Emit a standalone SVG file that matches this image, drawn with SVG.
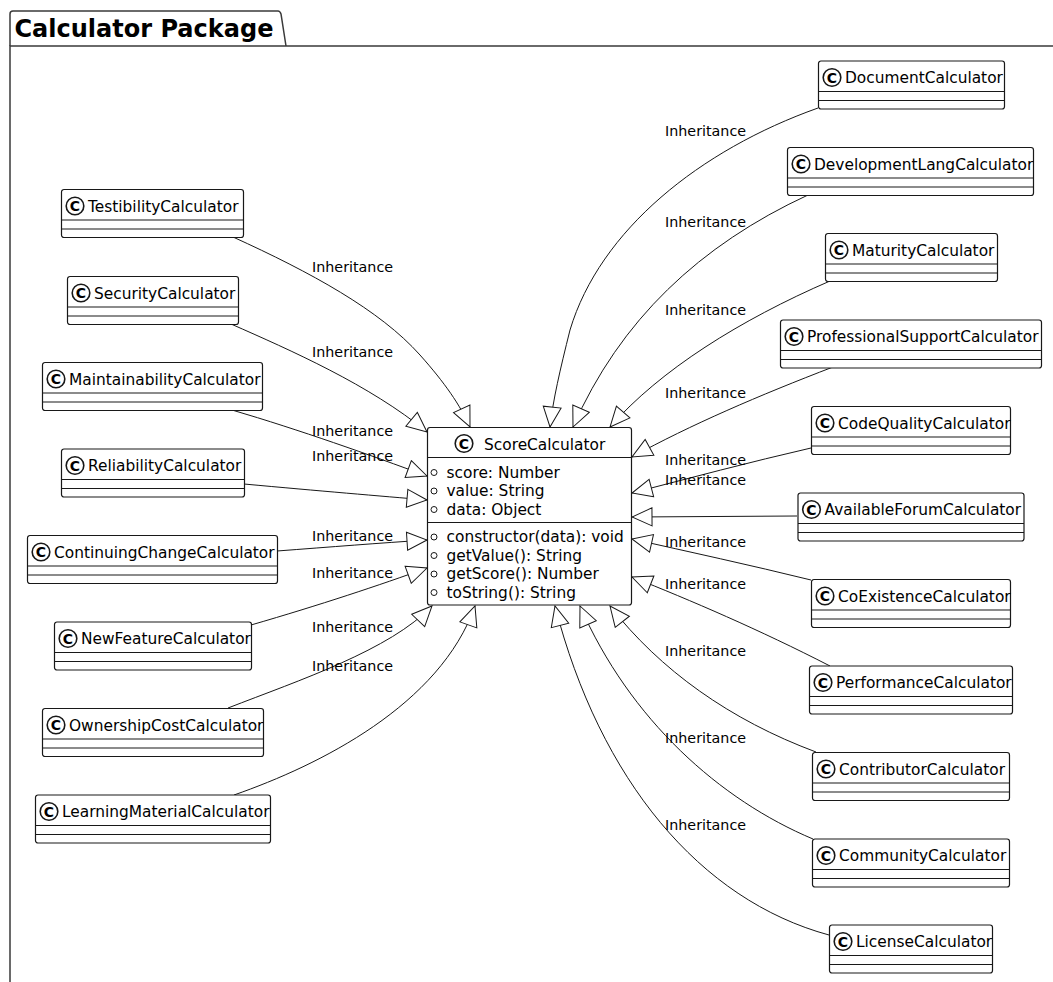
<svg xmlns="http://www.w3.org/2000/svg" width="1053" height="982" viewBox="0 0 1053 982">
  <style>
    text { font-family: "DejaVu Sans", Verdana, sans-serif; fill: #000; }
    .frame { fill: none; stroke: #3a3a3a; stroke-width: 1.5; }
    .title { font-size: 24px; font-weight: bold; }
    .box { fill: #fff; stroke: #181818; stroke-width: 1.2; }
    .sep { stroke: #181818; stroke-width: 1.2; }
    .icon { fill: #fff; stroke: #181818; stroke-width: 1.6; }
    .icon-c { font-size: 14px; font-weight: bold; text-anchor: middle; }
    .name { font-size: 15.4px; }
    .member { font-size: 15.4px; }
    .vis { fill: none; stroke: #181818; stroke-width: 1; }
    .edge { fill: none; stroke: #181818; stroke-width: 1; marker-end: url(#extends); }
    .label { font-size: 14.3px; }
  </style>
  <defs>
    <marker id="extends" viewBox="0 0 22 20" refX="21" refY="10" markerWidth="22" markerHeight="20" markerUnits="userSpaceOnUse" orient="auto">
      <path d="M1,1 L21,10 L1,19 Z" fill="#fff" stroke="#181818" stroke-width="1"/>
    </marker>
  </defs>
  <rect width="1053" height="982" fill="#fff"/>

  <!-- package frame -->
  <g id="calculator-package">
    <path class="frame" d="M10,982 L10,46 L1053,46"/>
    <path class="frame" d="M10,46 L10,14 Q10,11 13,11 L278,11 Q280,11 281,14 L286,46"/>
    <text class="title" x="14.5" y="37">Calculator Package</text>
  </g>

  <!-- inheritance connectors -->
  <g id="connectors">
    <path class="edge" d="M233,237 C310,272 380,310 420,355 C445,383 460,405 470,427"/>
    <path class="edge" d="M231,324 C290,350 370,385 427,432"/>
    <path class="edge" d="M232,410 C300,430 370,455 427,476"/>
    <path class="edge" d="M244,484 C320,491 380,496 427,500"/>
    <path class="edge" d="M277,551 C330,547 380,543 427,540"/>
    <path class="edge" d="M251,625 C320,605 380,585 427,568"/>
    <path class="edge" d="M228,708 C300,680 390,650 432,606"/>
    <path class="edge" d="M234,795 C320,765 440,705 475,606"/>

    <path class="edge" d="M818,108 C700,150 600,230 570,330 C560,370 553,400 550,427"/>
    <path class="edge" d="M808,195 C700,245 620,320 573,427"/>
    <path class="edge" d="M830,281 C740,320 660,370 610,427"/>
    <path class="edge" d="M833,367 C760,395 690,425 632,457"/>
    <path class="edge" d="M811,448 C750,462 690,478 632,493"/>
    <path class="edge" d="M797,516 L632,517"/>
    <path class="edge" d="M811,580 C750,565 690,552 632,539"/>
    <path class="edge" d="M830,666 C760,630 690,600 632,577"/>
    <path class="edge" d="M816,752 C730,720 660,670 610,606"/>
    <path class="edge" d="M813,839 C720,800 630,720 580,606"/>
    <path class="edge" d="M829,935 C700,900 600,780 555,606"/>

    <text class="label" x="312" y="272">Inheritance</text>
    <text class="label" x="312" y="357">Inheritance</text>
    <text class="label" x="312" y="436">Inheritance</text>
    <text class="label" x="312" y="461">Inheritance</text>
    <text class="label" x="312" y="541">Inheritance</text>
    <text class="label" x="312" y="578">Inheritance</text>
    <text class="label" x="312" y="632">Inheritance</text>
    <text class="label" x="312" y="671">Inheritance</text>

    <text class="label" x="665" y="136">Inheritance</text>
    <text class="label" x="665" y="227">Inheritance</text>
    <text class="label" x="665" y="315">Inheritance</text>
    <text class="label" x="665" y="398">Inheritance</text>
    <text class="label" x="665" y="465">Inheritance</text>
    <text class="label" x="665" y="485">Inheritance</text>
    <text class="label" x="665" y="547">Inheritance</text>
    <text class="label" x="665" y="589">Inheritance</text>
    <text class="label" x="665" y="656">Inheritance</text>
    <text class="label" x="665" y="743">Inheritance</text>
    <text class="label" x="665" y="830">Inheritance</text>
  </g>

  <!-- base class -->
  <g id="ScoreCalculator">
    <rect class="box" x="427.5" y="427.5" width="204" height="177.5" rx="2.5"/>
    <line class="sep" x1="427.5" y1="457.5" x2="631.5" y2="457.5"/>
    <line class="sep" x1="427.5" y1="522.5" x2="631.5" y2="522.5"/>
    <circle class="icon" cx="464" cy="443.5" r="8.8"/>
    <text class="icon-c" x="464" y="448.5">C</text>
    <text class="name" x="484" y="449.5">ScoreCalculator</text>
    <circle class="vis" cx="434" cy="472.5" r="3"/>
    <text class="member" x="446.5" y="477.5">score: Number</text>
    <circle class="vis" cx="434" cy="491" r="3"/>
    <text class="member" x="446.5" y="496">value: String</text>
    <circle class="vis" cx="434" cy="509.5" r="3"/>
    <text class="member" x="446.5" y="514.5">data: Object</text>
    <circle class="vis" cx="434" cy="537" r="3"/>
    <text class="member" x="446.5" y="542">constructor(data): void</text>
    <circle class="vis" cx="434" cy="555.5" r="3"/>
    <text class="member" x="446.5" y="560.5">getValue(): String</text>
    <circle class="vis" cx="434" cy="574" r="3"/>
    <text class="member" x="446.5" y="579">getScore(): Number</text>
    <circle class="vis" cx="434" cy="592.5" r="3"/>
    <text class="member" x="446.5" y="597.5">toString(): String</text>
  </g>

  <!-- subclasses, left column -->
  <g id="TestibilityCalculator" transform="translate(61,189)">
    <rect class="box" x="0.5" y="0.5" width="182" height="48" rx="2.5"/>
    <line class="sep" x1="0.5" y1="31" x2="182.5" y2="31"/>
    <line class="sep" x1="0.5" y1="40" x2="182.5" y2="40"/>
    <circle class="icon" cx="14" cy="17" r="8.8"/>
    <text class="icon-c" x="14" y="22">C</text>
    <text class="name" x="27" y="22.5">TestibilityCalculator</text>
  </g>
  <g id="SecurityCalculator" transform="translate(67,276)">
    <rect class="box" x="0.5" y="0.5" width="171" height="48" rx="2.5"/>
    <line class="sep" x1="0.5" y1="31" x2="171.5" y2="31"/>
    <line class="sep" x1="0.5" y1="40" x2="171.5" y2="40"/>
    <circle class="icon" cx="14" cy="17" r="8.8"/>
    <text class="icon-c" x="14" y="22">C</text>
    <text class="name" x="27" y="22.5">SecurityCalculator</text>
  </g>
  <g id="MaintainabilityCalculator" transform="translate(42,362)">
    <rect class="box" x="0.5" y="0.5" width="220" height="48" rx="2.5"/>
    <line class="sep" x1="0.5" y1="31" x2="220.5" y2="31"/>
    <line class="sep" x1="0.5" y1="40" x2="220.5" y2="40"/>
    <circle class="icon" cx="14" cy="17" r="8.8"/>
    <text class="icon-c" x="14" y="22">C</text>
    <text class="name" x="27" y="22.5">MaintainabilityCalculator</text>
  </g>
  <g id="ReliabilityCalculator" transform="translate(61,448.5)">
    <rect class="box" x="0.5" y="0.5" width="183" height="48" rx="2.5"/>
    <line class="sep" x1="0.5" y1="31" x2="183.5" y2="31"/>
    <line class="sep" x1="0.5" y1="40" x2="183.5" y2="40"/>
    <circle class="icon" cx="14" cy="17" r="8.8"/>
    <text class="icon-c" x="14" y="22">C</text>
    <text class="name" x="27" y="22.5">ReliabilityCalculator</text>
  </g>
  <g id="ContinuingChangeCalculator" transform="translate(27,535)">
    <rect class="box" x="0.5" y="0.5" width="250" height="48" rx="2.5"/>
    <line class="sep" x1="0.5" y1="31" x2="250.5" y2="31"/>
    <line class="sep" x1="0.5" y1="40" x2="250.5" y2="40"/>
    <circle class="icon" cx="14" cy="17" r="8.8"/>
    <text class="icon-c" x="14" y="22">C</text>
    <text class="name" x="27" y="22.5">ContinuingChangeCalculator</text>
  </g>
  <g id="NewFeatureCalculator" transform="translate(54,621.5)">
    <rect class="box" x="0.5" y="0.5" width="197" height="48" rx="2.5"/>
    <line class="sep" x1="0.5" y1="31" x2="197.5" y2="31"/>
    <line class="sep" x1="0.5" y1="40" x2="197.5" y2="40"/>
    <circle class="icon" cx="14" cy="17" r="8.8"/>
    <text class="icon-c" x="14" y="22">C</text>
    <text class="name" x="27" y="22.5">NewFeatureCalculator</text>
  </g>
  <g id="OwnershipCostCalculator" transform="translate(42,708)">
    <rect class="box" x="0.5" y="0.5" width="221" height="48" rx="2.5"/>
    <line class="sep" x1="0.5" y1="31" x2="221.5" y2="31"/>
    <line class="sep" x1="0.5" y1="40" x2="221.5" y2="40"/>
    <circle class="icon" cx="14" cy="17" r="8.8"/>
    <text class="icon-c" x="14" y="22">C</text>
    <text class="name" x="27" y="22.5">OwnershipCostCalculator</text>
  </g>
  <g id="LearningMaterialCalculator" transform="translate(35,794.5)">
    <rect class="box" x="0.5" y="0.5" width="235" height="48" rx="2.5"/>
    <line class="sep" x1="0.5" y1="31" x2="235.5" y2="31"/>
    <line class="sep" x1="0.5" y1="40" x2="235.5" y2="40"/>
    <circle class="icon" cx="14" cy="17" r="8.8"/>
    <text class="icon-c" x="14" y="22">C</text>
    <text class="name" x="27" y="22.5">LearningMaterialCalculator</text>
  </g>

  <!-- subclasses, right column -->
  <g id="DocumentCalculator" transform="translate(818,60.5)">
    <rect class="box" x="0.5" y="0.5" width="186" height="48" rx="2.5"/>
    <line class="sep" x1="0.5" y1="31" x2="186.5" y2="31"/>
    <line class="sep" x1="0.5" y1="40" x2="186.5" y2="40"/>
    <circle class="icon" cx="14" cy="17" r="8.8"/>
    <text class="icon-c" x="14" y="22">C</text>
    <text class="name" x="27" y="22.5">DocumentCalculator</text>
  </g>
  <g id="DevelopmentLangCalculator" transform="translate(787,147)">
    <rect class="box" x="0.5" y="0.5" width="246" height="48" rx="2.5"/>
    <line class="sep" x1="0.5" y1="31" x2="246.5" y2="31"/>
    <line class="sep" x1="0.5" y1="40" x2="246.5" y2="40"/>
    <circle class="icon" cx="14" cy="17" r="8.8"/>
    <text class="icon-c" x="14" y="22">C</text>
    <text class="name" x="27" y="22.5">DevelopmentLangCalculator</text>
  </g>
  <g id="MaturityCalculator" transform="translate(825,233)">
    <rect class="box" x="0.5" y="0.5" width="172" height="48" rx="2.5"/>
    <line class="sep" x1="0.5" y1="31" x2="172.5" y2="31"/>
    <line class="sep" x1="0.5" y1="40" x2="172.5" y2="40"/>
    <circle class="icon" cx="14" cy="17" r="8.8"/>
    <text class="icon-c" x="14" y="22">C</text>
    <text class="name" x="27" y="22.5">MaturityCalculator</text>
  </g>
  <g id="ProfessionalSupportCalculator" transform="translate(780,319.5)">
    <rect class="box" x="0.5" y="0.5" width="261" height="48" rx="2.5"/>
    <line class="sep" x1="0.5" y1="31" x2="261.5" y2="31"/>
    <line class="sep" x1="0.5" y1="40" x2="261.5" y2="40"/>
    <circle class="icon" cx="14" cy="17" r="8.8"/>
    <text class="icon-c" x="14" y="22">C</text>
    <text class="name" x="27" y="22.5">ProfessionalSupportCalculator</text>
  </g>
  <g id="CodeQualityCalculator" transform="translate(811,406)">
    <rect class="box" x="0.5" y="0.5" width="199" height="48" rx="2.5"/>
    <line class="sep" x1="0.5" y1="31" x2="199.5" y2="31"/>
    <line class="sep" x1="0.5" y1="40" x2="199.5" y2="40"/>
    <circle class="icon" cx="14" cy="17" r="8.8"/>
    <text class="icon-c" x="14" y="22">C</text>
    <text class="name" x="27" y="22.5">CodeQualityCalculator</text>
  </g>
  <g id="AvailableForumCalculator" transform="translate(797.5,492.5)">
    <rect class="box" x="0.5" y="0.5" width="226" height="48" rx="2.5"/>
    <line class="sep" x1="0.5" y1="31" x2="226.5" y2="31"/>
    <line class="sep" x1="0.5" y1="40" x2="226.5" y2="40"/>
    <circle class="icon" cx="14" cy="17" r="8.8"/>
    <text class="icon-c" x="14" y="22">C</text>
    <text class="name" x="27" y="22.5">AvailableForumCalculator</text>
  </g>
  <g id="CoExistenceCalculator" transform="translate(811,579)">
    <rect class="box" x="0.5" y="0.5" width="199" height="48" rx="2.5"/>
    <line class="sep" x1="0.5" y1="31" x2="199.5" y2="31"/>
    <line class="sep" x1="0.5" y1="40" x2="199.5" y2="40"/>
    <circle class="icon" cx="14" cy="17" r="8.8"/>
    <text class="icon-c" x="14" y="22">C</text>
    <text class="name" x="27" y="22.5">CoExistenceCalculator</text>
  </g>
  <g id="PerformanceCalculator" transform="translate(809,665.5)">
    <rect class="box" x="0.5" y="0.5" width="203" height="48" rx="2.5"/>
    <line class="sep" x1="0.5" y1="31" x2="203.5" y2="31"/>
    <line class="sep" x1="0.5" y1="40" x2="203.5" y2="40"/>
    <circle class="icon" cx="14" cy="17" r="8.8"/>
    <text class="icon-c" x="14" y="22">C</text>
    <text class="name" x="27" y="22.5">PerformanceCalculator</text>
  </g>
  <g id="ContributorCalculator" transform="translate(812,752)">
    <rect class="box" x="0.5" y="0.5" width="197" height="48" rx="2.5"/>
    <line class="sep" x1="0.5" y1="31" x2="197.5" y2="31"/>
    <line class="sep" x1="0.5" y1="40" x2="197.5" y2="40"/>
    <circle class="icon" cx="14" cy="17" r="8.8"/>
    <text class="icon-c" x="14" y="22">C</text>
    <text class="name" x="27" y="22.5">ContributorCalculator</text>
  </g>
  <g id="CommunityCalculator" transform="translate(812,838.5)">
    <rect class="box" x="0.5" y="0.5" width="197" height="48" rx="2.5"/>
    <line class="sep" x1="0.5" y1="31" x2="197.5" y2="31"/>
    <line class="sep" x1="0.5" y1="40" x2="197.5" y2="40"/>
    <circle class="icon" cx="14" cy="17" r="8.8"/>
    <text class="icon-c" x="14" y="22">C</text>
    <text class="name" x="27" y="22.5">CommunityCalculator</text>
  </g>
  <g id="LicenseCalculator" transform="translate(829,924.5)">
    <rect class="box" x="0.5" y="0.5" width="163" height="48" rx="2.5"/>
    <line class="sep" x1="0.5" y1="31" x2="163.5" y2="31"/>
    <line class="sep" x1="0.5" y1="40" x2="163.5" y2="40"/>
    <circle class="icon" cx="14" cy="17" r="8.8"/>
    <text class="icon-c" x="14" y="22">C</text>
    <text class="name" x="27" y="22.5">LicenseCalculator</text>
  </g>
</svg>
